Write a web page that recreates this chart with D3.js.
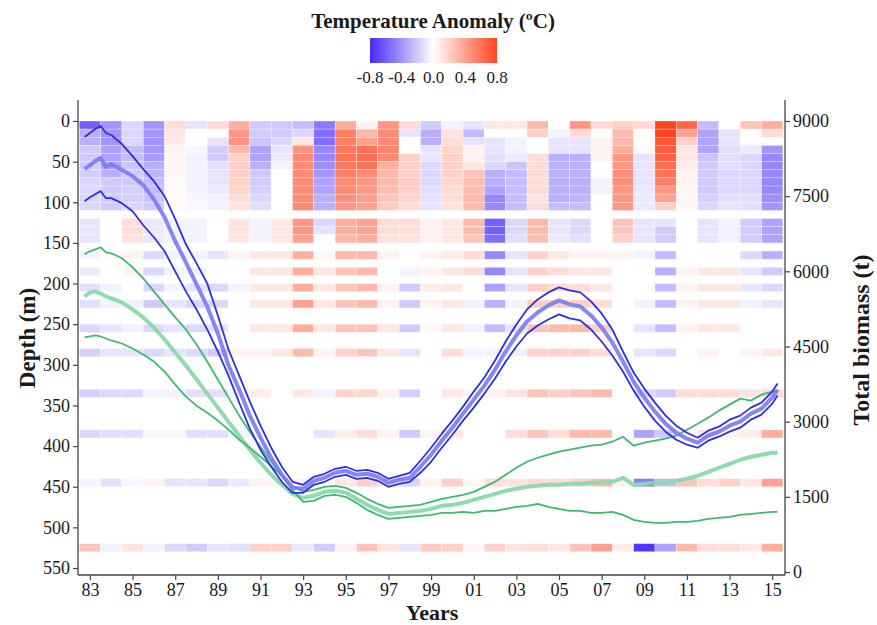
<!DOCTYPE html>
<html>
<head>
<meta charset="utf-8">
<script src="https://cdn.jsdelivr.net/npm/d3@7"></script>
<style>
  body { margin: 0; background: #fff; }
  svg text { font-family: "Liberation Serif", "Times New Roman", serif; fill: #1a1a1a; }
</style>
</head>
<body>
<svg id="chart" width="877" height="625"></svg>
<script>
// survey years and depth bins (top of each 10 m bin)
var years = [1983,1984,1985,1986,1987,1988,1989,1990,1991,1992,1993,1994,1995,1996,1997,1998,1999,
             2000,2001,2002,2003,2004,2005,2006,2007,2008,2009,2010,2011,2012,2013,2014,2015];
var depthBins = [0,10,20,30,40,50,60,70,80,90,100,120,130,140,160,180,200,220,250,280,330,380,440,520];

// temperature anomaly (ºC), one row per depth bin, one value per year
var anomaly = [
  [-0.6,-0.4,-0.15,-0.4,0.15,-0.1,0.15,0.35,-0.2,-0.2,-0.25,-0.5,0.35,0.05,0.45,0.15,-0.2,-0.05,-0.1,0.1,0.1,0.3,0.0,0.45,0.15,0.2,0.15,0.8,0.65,-0.25,0.0,0.25,0.35],
  [-0.3,-0.4,-0.15,-0.4,0.1,0.0,0.0,0.45,-0.2,-0.2,-0.15,-0.55,0.55,0.3,0.5,-0.1,-0.3,0.12,-0.25,0.0,0.0,0.2,-0.05,0.15,0.0,0.3,0.0,0.8,0.4,-0.35,-0.1,0.0,0.15],
  [-0.3,-0.4,-0.15,-0.4,0.08,0.0,-0.1,0.45,-0.22,-0.15,0.1,-0.55,0.55,0.4,0.5,0.0,-0.3,0.15,-0.1,-0.1,-0.05,0.0,-0.1,-0.1,0.05,0.3,0.0,0.72,0.2,-0.35,-0.1,0.0,0.0],
  [-0.2,-0.35,-0.25,-0.4,0.05,-0.03,-0.2,0.3,-0.35,-0.1,0.45,-0.45,0.58,0.6,0.52,0.0,-0.1,0.18,0.05,-0.1,-0.05,0.0,-0.1,-0.1,0.05,0.35,0.02,0.7,0.1,-0.35,-0.12,-0.08,-0.4],
  [-0.2,-0.35,-0.25,-0.38,0.03,-0.05,-0.2,0.2,-0.35,-0.08,0.5,-0.45,0.6,0.62,0.5,0.2,-0.1,0.2,0.05,-0.12,-0.08,0.15,-0.3,-0.3,0.05,0.45,-0.1,0.68,0.1,-0.22,-0.12,-0.15,-0.45],
  [-0.2,-0.35,-0.22,-0.3,0.03,-0.05,-0.12,0.2,-0.3,-0.05,0.5,-0.42,0.58,0.6,0.35,0.2,-0.15,0.2,0.1,-0.15,-0.22,0.15,-0.3,-0.3,0.0,0.45,-0.1,0.62,0.08,-0.2,-0.12,-0.15,-0.45],
  [-0.18,-0.3,-0.2,-0.28,0.03,-0.05,-0.1,0.2,-0.2,0.0,0.5,-0.4,0.55,0.5,0.3,0.2,-0.15,0.2,0.25,-0.3,-0.25,0.15,-0.3,-0.3,0.0,0.48,-0.1,0.6,0.05,-0.2,-0.15,-0.15,-0.45],
  [-0.15,-0.2,-0.2,-0.25,0.02,-0.05,-0.1,0.2,-0.2,0.0,0.5,-0.35,0.5,0.45,0.3,0.22,-0.15,0.18,0.28,-0.3,-0.25,0.15,-0.3,-0.3,-0.05,0.48,-0.1,0.55,0.05,-0.2,-0.15,-0.15,-0.45],
  [-0.15,-0.2,-0.18,-0.25,0.02,-0.05,-0.08,0.18,-0.18,0.0,0.5,-0.35,0.5,0.45,0.28,0.2,-0.12,0.15,0.28,-0.35,-0.25,0.15,-0.3,-0.3,-0.05,0.45,-0.08,0.45,0.03,-0.2,-0.15,-0.15,-0.45],
  [-0.15,-0.2,-0.18,-0.22,0.02,-0.03,-0.05,0.15,-0.15,0.0,0.5,-0.3,0.48,0.42,0.25,0.18,-0.12,0.15,0.3,-0.45,-0.25,0.12,-0.3,-0.28,0.0,0.45,-0.08,0.4,0.03,-0.18,-0.12,-0.12,-0.42],
  [-0.15,-0.2,-0.15,-0.2,0.02,-0.03,-0.05,0.12,-0.12,0.0,0.5,-0.3,0.45,0.4,0.22,0.15,-0.1,0.12,0.3,-0.45,-0.25,0.15,-0.25,-0.25,0.0,0.45,-0.08,0.2,0.03,-0.15,-0.1,-0.12,-0.4],
  [-0.1,0.0,0.15,-0.08,-0.05,-0.05,0.0,0.12,-0.05,0.1,0.45,-0.15,0.35,0.4,0.15,0.15,0.05,0.1,0.3,-0.6,-0.15,0.3,-0.1,-0.15,0.0,0.25,-0.1,-0.1,0.0,-0.1,-0.05,-0.2,-0.35],
  [-0.1,0.0,0.15,-0.08,-0.05,-0.05,0.0,0.12,-0.05,0.1,0.45,-0.1,0.35,0.4,0.15,0.15,0.05,0.1,0.3,-0.6,-0.15,0.3,-0.1,-0.15,0.0,0.25,-0.1,-0.2,0.0,-0.1,-0.05,-0.2,-0.35],
  [-0.1,0.0,0.12,-0.08,-0.05,-0.05,0.0,0.1,-0.05,0.1,0.4,0.0,0.3,0.35,0.12,0.12,0.05,0.1,0.25,-0.55,-0.12,0.28,-0.08,-0.12,0.0,0.2,-0.1,-0.2,0.0,-0.1,-0.05,-0.2,-0.35],
  [-0.05,0.03,0.05,-0.15,-0.05,-0.05,-0.1,0.05,0.1,0.1,0.35,0.03,0.3,0.3,0.05,0.0,0.05,0.08,0.15,-0.45,-0.1,0.2,0.1,0.05,0.05,0.05,-0.05,-0.25,0.0,0.0,0.0,-0.15,-0.3],
  [-0.08,0.0,0.05,-0.15,-0.05,-0.05,0.0,0.0,0.1,0.1,0.35,0.1,0.25,0.3,0.0,-0.05,0.05,0.1,0.15,-0.45,-0.1,0.2,0.15,0.1,0.1,0.0,0.0,-0.3,0.05,0.1,0.1,-0.1,-0.2],
  [-0.12,-0.05,0.0,-0.15,-0.05,-0.1,-0.15,-0.05,0.1,0.1,0.35,0.1,0.25,0.3,0.05,-0.2,0.08,0.1,0.0,-0.35,-0.1,0.2,0.15,0.15,0.1,0.0,0.0,-0.25,0.05,0.1,0.1,-0.1,-0.15],
  [-0.12,-0.05,-0.05,-0.2,-0.1,-0.15,-0.15,0.0,0.1,0.1,0.4,0.1,0.25,0.3,0.05,-0.2,0.05,0.1,-0.05,-0.3,-0.05,0.2,0.2,0.2,0.15,0.0,-0.05,-0.25,0.05,0.1,0.1,-0.05,-0.1],
  [-0.15,-0.1,-0.05,-0.15,-0.1,-0.15,-0.1,0.0,0.1,0.1,0.35,0.1,0.25,0.25,0.1,-0.2,0.03,0.1,-0.05,-0.25,-0.1,0.25,0.3,0.3,0.2,0.0,-0.1,-0.25,0.05,0.1,0.1,0.0,0.0],
  [-0.18,-0.1,-0.1,-0.15,-0.1,-0.15,-0.2,0.05,0.05,0.1,0.3,0.05,0.2,0.25,0.1,-0.1,0.0,0.15,-0.05,-0.05,-0.05,0.2,0.2,0.2,0.15,0.0,-0.1,-0.15,0.0,0.05,0.0,0.05,0.1],
  [-0.18,-0.15,-0.15,-0.05,-0.05,-0.12,-0.12,-0.05,0.08,0.0,0.1,-0.05,0.18,0.18,0.05,-0.18,0.0,0.1,-0.03,0.05,0.12,0.25,0.2,0.25,0.3,0.0,-0.15,-0.2,0.15,0.15,0.15,0.12,0.15],
  [-0.15,-0.12,-0.12,-0.03,-0.03,-0.12,-0.12,-0.05,0.03,0.0,0.0,-0.1,0.08,0.15,0.05,-0.2,0.05,0.1,0.0,0.0,0.15,0.25,0.15,0.3,0.3,0.0,-0.35,-0.2,0.05,0.12,0.05,0.08,0.35],
  [-0.04,-0.12,-0.03,0.05,-0.1,-0.1,-0.15,-0.08,0.05,0.03,0.05,0.0,0.1,0.2,0.1,-0.15,0.05,0.2,0.03,0.15,0.12,0.15,0.15,0.2,0.3,0.05,-0.5,-0.25,0.25,0.15,0.2,0.1,0.4],
  [0.25,-0.05,0.12,-0.05,-0.15,-0.2,-0.1,-0.12,0.2,0.2,-0.08,-0.2,0.05,0.25,0.12,-0.1,0.22,0.2,0.03,0.2,0.12,0.15,0.1,0.25,0.4,0.08,-0.75,-0.35,0.3,0.15,0.15,0.1,0.35]
];

// biomass time steps (years)
var timeSteps = [1982.75,1983,1983.25,1983.5,1983.75,1984,1984.5,1985,1985.5,1986,1986.5,1987,1987.5,1988,1988.5,
  1989,1989.5,1990,1990.5,1991,1991.5,1992,1992.5,1993,1993.5,1994,1994.5,1995,1995.5,1996,1996.5,1997,1997.5,
  1998,1998.5,1999,1999.5,2000,2000.5,2001,2001.5,2002,2002.5,2003,2003.5,2004,2004.5,2005,2005.5,2006,2006.5,
  2007,2007.5,2008,2008.5,2009,2009.5,2010,2010.5,2011,2011.5,2012,2012.5,2013,2013.5,2014,2014.5,2015,2015.25];

// total biomass (t) - blue series
var blueUpper = [8680,8760,8840,8900,8760,8720,8540,8300,8040,7800,7500,7040,6540,6160,5760,5120,4440,3920,3400,2920,
  2480,2100,1800,1740,1900,1960,2060,2100,2020,2040,1980,1860,1920,1980,2220,2480,2760,3020,3300,3600,
  3880,4220,4600,4940,5240,5440,5580,5680,5620,5580,5400,5160,4840,4400,3980,3660,3380,3120,2920,2780,
  2680,2820,2900,3040,3120,3280,3380,3600,3760];
var blueMid = [8040,8120,8200,8260,8080,8140,8020,7900,7720,7440,7080,6600,6180,5740,5300,4760,4120,3640,3120,2680,
  2280,1940,1680,1660,1820,1880,1980,2020,1940,1960,1900,1780,1840,1880,2100,2340,2620,2880,3160,3440,
  3720,4040,4400,4720,5000,5180,5320,5420,5340,5300,5120,4880,4580,4200,3800,3480,3200,2960,2780,2660,
  2580,2720,2800,2920,3000,3160,3260,3480,3640];
var blueLower = [7400,7480,7540,7600,7460,7460,7360,7200,6920,6680,6400,6000,5600,5240,4840,4400,3920,3380,2860,2440,
  2100,1800,1580,1580,1740,1800,1900,1940,1860,1880,1820,1700,1760,1800,1980,2200,2480,2740,3020,3280,
  3560,3860,4200,4500,4760,4920,5040,5140,5060,5020,4840,4600,4320,4000,3620,3300,3020,2800,2640,2540,
  2480,2620,2700,2800,2880,3040,3140,3360,3520];

// total biomass (t) - green series
var greenUpper = [6340,6400,6440,6480,6380,6360,6260,6080,5860,5600,5340,5080,4840,4540,4200,3840,3480,3120,2800,2500,
  2200,1940,1720,1600,1640,1700,1720,1680,1580,1460,1360,1280,1300,1320,1340,1400,1460,1500,1540,1600,
  1700,1800,1940,2080,2200,2280,2340,2400,2440,2480,2520,2540,2600,2700,2520,2580,2620,2660,2720,2840,
  2960,3080,3220,3340,3460,3420,3540,3600,3620];
var greenMid = [5500,5580,5600,5560,5500,5460,5380,5240,5080,4880,4640,4380,4120,3840,3560,3280,3000,2720,2440,2180,
  1940,1740,1560,1480,1520,1600,1620,1580,1460,1340,1240,1160,1180,1200,1220,1260,1320,1340,1380,1440,
  1500,1560,1620,1660,1700,1720,1740,1740,1760,1760,1780,1780,1800,1880,1740,1760,1780,1780,1820,1860,
  1920,2000,2080,2160,2240,2300,2340,2380,2380];
var greenLower = [4680,4700,4720,4700,4660,4620,4560,4460,4340,4200,4000,3740,3500,3320,3180,3020,2840,2640,2480,2300,
  2120,1920,1640,1400,1420,1520,1540,1500,1380,1240,1140,1060,1080,1100,1120,1140,1180,1180,1200,1180,
  1220,1220,1260,1300,1320,1360,1300,1260,1220,1220,1180,1180,1200,1140,1040,1000,980,980,1000,1000,
  1020,1060,1080,1100,1140,1160,1180,1200,1200];

var legendTicks = [-0.8, -0.4, 0.0, 0.4, 0.8];
var depthTicks = [0,50,100,150,200,250,300,350,400,450,500,550];
var biomassTicks = [0,1500,3000,4500,6000,7500,9000];
var yearTicks = [1983,1985,1987,1989,1991,1993,1995,1997,1999,2001,2003,2005,2007,2009,2011,2013,2015];

var svg = d3.select("#chart");
var plotLeft = 78, plotRight = 785, plotTop = 100, plotBottom = 575;

var x = d3.scaleLinear().domain([1982.44, 2015.6]).range([plotLeft, plotRight]);
var yDepth = d3.scaleLinear().domain([0, 550]).range([121, 568]);
var yBio = d3.scaleLinear().domain([0, 9000]).range([572, 121]);
var color = d3.scaleLinear().domain([-0.8, 0, 0.8])
  .range(["#4629ff", "#ffffff", "#ff4320"]).clamp(true);

svg.append("rect").attr("width", 877).attr("height", 625).attr("fill", "#fff");

// heatmap
var cells = [];
depthBins.forEach(function(d, i) {
  years.forEach(function(yr, j) {
    cells.push({year: yr, depth: d, value: anomaly[i][j]});
  });
});
svg.append("g").selectAll("rect")
  .data(cells)
  .enter().append("rect")
  .attr("x", function(d) { return x(d.year - 0.5); })
  .attr("y", function(d) { return yDepth(d.depth); })
  .attr("width", function(d) { return x(d.year + 0.5) - x(d.year - 0.5); })
  .attr("height", function(d) { return yDepth(d.depth + 10) - yDepth(d.depth); })
  .attr("fill", function(d) { return color(d.value); })
  .attr("stroke", "#fff")
  .attr("stroke-width", 0.5)
  .attr("stroke-opacity", 0.6);

// biomass lines
var line = d3.line()
  .x(function(d) { return x(d[0]); })
  .y(function(d) { return yBio(d[1]); });

function drawLine(vals, col, w, op) {
  svg.append("path")
    .datum(timeSteps.map(function(t, i) { return [t, vals[i]]; }))
    .attr("d", line)
    .attr("fill", "none")
    .attr("stroke", col)
    .attr("stroke-width", w)
    .attr("stroke-opacity", op)
    .attr("stroke-linejoin", "round");
}
drawLine(greenMid, "#8ad9aa", 4, 0.95);
drawLine(greenUpper, "#3dba72", 1.8, 1);
drawLine(greenLower, "#3dba72", 1.8, 1);
drawLine(blueMid, "#7a7af3", 4, 0.9);
drawLine(blueUpper, "#2f2fe2", 1.8, 1);
drawLine(blueLower, "#2f2fe2", 1.8, 1);

// axes
var axisCol = "#444";
function styleAxis(g) {
  g.select(".domain").remove();
  g.selectAll(".tick line").attr("stroke", axisCol).attr("stroke-width", 1.2);
  g.selectAll(".tick text").attr("font-size", 18).attr("fill", "#1a1a1a")
    .attr("font-family", "Liberation Serif, Times New Roman, serif");
}
svg.append("g").attr("transform", "translate(" + plotLeft + ",0)")
  .call(d3.axisLeft(yDepth).tickValues(depthTicks).tickSize(5).tickPadding(3))
  .call(styleAxis);
svg.append("g").attr("transform", "translate(" + plotRight + ",0)")
  .call(d3.axisRight(yBio).tickValues(biomassTicks).tickSize(5).tickPadding(3)
    .tickFormat(d3.format("d")))
  .call(styleAxis);
svg.append("g").attr("transform", "translate(0," + plotBottom + ")")
  .call(d3.axisBottom(x).tickValues(yearTicks).tickSize(5).tickPadding(3)
    .tickFormat(function(d) { return String(d).slice(2); }))
  .call(styleAxis);

svg.append("line").attr("x1", plotLeft).attr("x2", plotLeft).attr("y1", plotTop).attr("y2", plotBottom)
  .attr("stroke", axisCol).attr("stroke-width", 1.3);
svg.append("line").attr("x1", plotRight).attr("x2", plotRight).attr("y1", plotTop).attr("y2", plotBottom)
  .attr("stroke", axisCol).attr("stroke-width", 1.3);
svg.append("line").attr("x1", plotLeft).attr("x2", plotRight).attr("y1", plotBottom).attr("y2", plotBottom)
  .attr("stroke", axisCol).attr("stroke-width", 1.3);

// axis titles
svg.append("text").attr("transform", "translate(35,338) rotate(-90)")
  .attr("text-anchor", "middle").attr("font-size", 23).attr("font-weight", "bold")
  .text("Depth (m)");
svg.append("text").attr("transform", "translate(869,340) rotate(-90)")
  .attr("text-anchor", "middle").attr("font-size", 24).attr("font-weight", "bold")
  .text("Total biomass (t)");
svg.append("text").attr("x", 432).attr("y", 620)
  .attr("text-anchor", "middle").attr("font-size", 22).attr("font-weight", "bold")
  .text("Years");

// legend
var lx = d3.scaleLinear().domain([-0.8, 0.8]).range([370, 497]);
var grad = svg.append("defs").append("linearGradient").attr("id", "lg");
d3.range(-0.8, 0.81, 0.1).forEach(function(v) {
  grad.append("stop").attr("offset", ((v + 0.8) / 1.6 * 100) + "%").attr("stop-color", color(v));
});
svg.append("text").attr("x", 433).attr("y", 28).attr("text-anchor", "middle")
  .attr("font-size", 21).attr("font-weight", "bold").text("Temperature Anomaly (ºC)");
svg.append("rect").attr("x", lx(-0.8)).attr("y", 38).attr("width", lx(0.8) - lx(-0.8)).attr("height", 25)
  .attr("fill", "url(#lg)");
svg.append("g").selectAll("text").data(legendTicks).enter().append("text")
  .attr("x", function(d) { return lx(d); })
  .attr("y", 83)
  .attr("text-anchor", "middle")
  .attr("font-size", 17)
  .text(function(d) { return d.toFixed(1); });
</script>
</body>
</html>
